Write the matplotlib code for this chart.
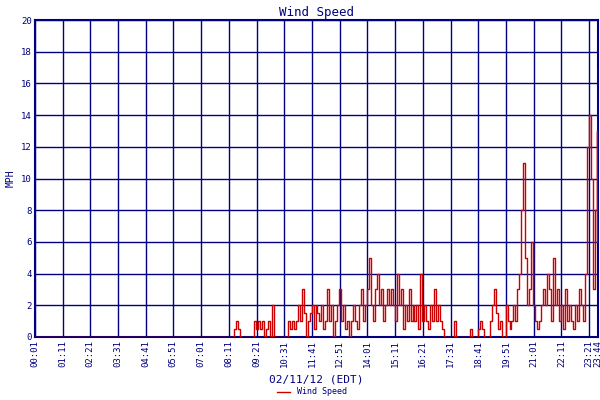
import matplotlib
matplotlib.use("Agg")
import matplotlib.pyplot as plt
import numpy as np

start_min = 480  # 08:00, 5-minute samples
speed_by_hour = [
    [0,0,0,0,0,0.5,1,0.5,0,0,0,0],
    [0,0,0,1,0.5,1,0.5,1,0,0.5,1,0],
    [2,0,0,0,0,0,0,0,1,0.5,1,0.5],
    [1,2,1,3,1.5,0,1,1.5,2,0.5,2,1.5],
    [1,2,0.5,1,3,1,2,0,1,2,3,1],
    [2,0.5,1,0,1,2,1,0.5,2,3,1,2],
    [3,5,2,1,3,4,2,3,1,2,3,2],
    [3,2,1,4,2,3,0.5,2,1,3,1,2],
    [1,2,0.5,4,1,2,1,0.5,2,1,3,1],
    [2,1,0.5,0,0,0,0,0,1,0,0,0],
    [0,0,0,0,0.5,0,0,0,0.5,1,0.5,0],
    [0,0,1,2,3,1.5,0.5,1,0,0,2,1],
    [0.5,1,2,1,3,4,8,11,5,2,3,6],
    [2,1,0.5,1,2,3,2,4,3,1,5,2],
    [3,1,2,0.5,3,1,2,1,0.5,2,1,3],
    [2,1,4,12,14,10,3,8,13],
]
end_vals = [6, 17]  # 23:42, 23:44
end_times = [1422, 1424]

vals = [0.0]
times = [1]
t = start_min
for row in speed_by_hour:
    for v in row:
        times.append(t); vals.append(v); t += 5
times += end_times
vals += end_vals

tick_pos = list(range(1, 1402, 70)) + [1424]
tick_lab = ["00:01","01:11","02:21","03:31","04:41","05:51","07:01","08:11","09:21","10:31",
            "11:41","12:51","14:01","15:11","16:21","17:31","18:41","19:51","21:01","22:11","23:21","23:44"]

navy = "#000080"
fig = plt.figure(figsize=(6, 4), dpi=100)
ax = fig.add_axes([0.058, 0.1575, 0.939, 0.7925])
ax.plot(times, vals, color="#cc0000", lw=1, drawstyle="steps-post", label="Wind Speed", zorder=3)
ax.set_xlim(1, 1424)
ax.set_ylim(0, 20)
ax.set_yticks(range(0, 21, 2))
ax.set_xticks(tick_pos)
ax.set_xticklabels(tick_lab, rotation=90, family="DejaVu Sans Mono", fontsize=6.5, color=navy)
for lab in ax.get_yticklabels():
    lab.set_family("DejaVu Sans Mono"); lab.set_fontsize(6.5); lab.set_color(navy)
ax.grid(True, color=navy, lw=1, zorder=1)
ax.tick_params(length=0, pad=2)
for s in ax.spines.values():
    s.set_color(navy); s.set_linewidth(1.5)
ax.set_title("Wind Speed", family="DejaVu Sans Mono", fontsize=9, color=navy, pad=3)
ax.set_ylabel("MPH", family="DejaVu Sans Mono", fontsize=7, color=navy)
ax.set_xlabel("02/11/12 (EDT)", family="DejaVu Sans Mono", fontsize=8, color=navy, labelpad=6)
fig.legend(loc="lower center", bbox_to_anchor=(0.52, -0.01), frameon=False,
           prop={"family": "DejaVu Sans Mono", "size": 6}, labelcolor=navy, handlelength=1.5)
fig.savefig("out.png", dpi=100)
